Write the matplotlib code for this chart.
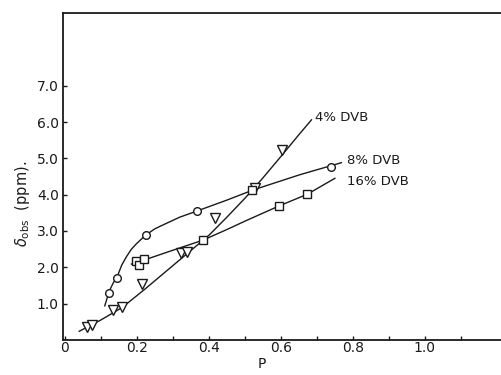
import matplotlib
matplotlib.use("Agg")
import matplotlib.pyplot as plt

# ---- data ----
# 4% DVB (triangles)
dvb4_x = [0.062, 0.075, 0.134, 0.159, 0.213, 0.324, 0.338, 0.417, 0.528, 0.602]
dvb4_y = [0.37, 0.40, 0.83, 0.90, 1.53, 2.39, 2.42, 3.35, 4.18, 5.23]
# 8% DVB (circles)
dvb8_x = [0.122, 0.144, 0.225, 0.367, 0.740]
dvb8_y = [1.29, 1.71, 2.89, 3.55, 4.77]
# 16% DVB (squares)
dvb16_x = [0.197, 0.206, 0.219, 0.384, 0.520, 0.595, 0.673]
dvb16_y = [2.17, 2.07, 2.22, 2.75, 4.12, 3.69, 4.01]

# hand-drawn curves
curve4_x = [0.04, 0.10, 0.16, 0.22, 0.28, 0.34, 0.40, 0.45, 0.50, 0.523, 0.55, 0.60, 0.65, 0.685]
curve4_y = [0.24, 0.55, 0.90, 1.38, 1.88, 2.38, 2.88, 3.38, 3.90, 4.15, 4.46, 5.05, 5.65, 6.06]
curve8_x = [0.111, 0.118, 0.125, 0.135, 0.147, 0.158, 0.171, 0.185, 0.199, 0.225, 0.250, 0.282, 0.319, 0.367, 0.45, 0.523, 0.653, 0.768]
curve8_y = [0.94, 1.17, 1.38, 1.58, 1.78, 2.06, 2.29, 2.50, 2.65, 2.89, 3.06, 3.21, 3.38, 3.55, 3.85, 4.13, 4.55, 4.88]
curve16_x = [0.185, 0.22, 0.30, 0.384, 0.45, 0.50, 0.595, 0.673, 0.75]
curve16_y = [2.09, 2.20, 2.47, 2.75, 3.04, 3.27, 3.69, 4.01, 4.45]

labels = ["4% DVB", "8% DVB", "16% DVB"]
label_x = [0.694, 0.783, 0.783]
label_y = [6.12, 4.93, 4.35]

xticks = [0, 0.2, 0.4, 0.6, 0.8, 1.0]
xtick_labels = ["0", "0.2", "0.4", "0.6", "0.8", "1.0"]
xminor = [0.1, 0.3, 0.5, 0.7, 0.9, 1.1]
yticks = [1, 2, 3, 4, 5, 6, 7]
ytick_labels = ["1.0", "2.0", "3.0", "4.0", "5.0", "6.0", "7.0"]

plt.rcParams['font.family'] = ['DejaVu Sans']
fig = plt.figure(figsize=(5.02, 3.75), dpi=100)
ax = fig.add_axes([63/502, 35/375, 1 - 63/502, (340 - 13)/375])

ink = "#1a1a1a"
ax.plot(curve4_x, curve4_y, color=ink, lw=1.0)
ax.plot(curve8_x, curve8_y, color=ink, lw=1.0)
ax.plot(curve16_x, curve16_y, color=ink, lw=1.0)

ax.plot(dvb4_x, dvb4_y, ls='none', marker='v', ms=7.5, mfc='white', mec=ink, mew=1.0)
ax.plot(dvb8_x, dvb8_y, ls='none', marker='o', ms=5.5, mfc='white', mec=ink, mew=1.0)
ax.plot(dvb16_x, dvb16_y, ls='none', marker='s', ms=5.5, mfc='white', mec=ink, mew=1.0)

for t, x, y in zip(labels, label_x, label_y):
    ax.text(x, y, t, fontsize=9.5, color=ink, va='center', ha='left')

ax.set_xlim(-0.005, 1.214)
ax.set_ylim(0, 9.0)
ax.set_xticks(xticks)
ax.set_xticklabels(xtick_labels)
ax.set_xticks(xminor, minor=True)
ax.set_yticks(yticks)
ax.set_yticklabels(ytick_labels)
ax.tick_params(axis='both', which='both', direction='in', length=3, width=1,
               color=ink, labelsize=10, labelcolor=ink)
ax.tick_params(axis='x', pad=1)
ax.tick_params(axis='y', pad=3)

ax.spines['right'].set_visible(False)
for s in ['left', 'top', 'bottom']:
    ax.spines[s].set_linewidth(1.3)
    ax.spines[s].set_color(ink)

fig.text(22/502, 1 - 204/375, r"$\delta_{\mathrm{obs}}$  (ppm).", rotation=90,
         ha='center', va='center', fontsize=10.5, color=ink)
fig.text(262/502, 1 - 364/375, "P", ha='center', va='center', fontsize=10, color=ink)

fig.savefig("out.png", dpi=100)
